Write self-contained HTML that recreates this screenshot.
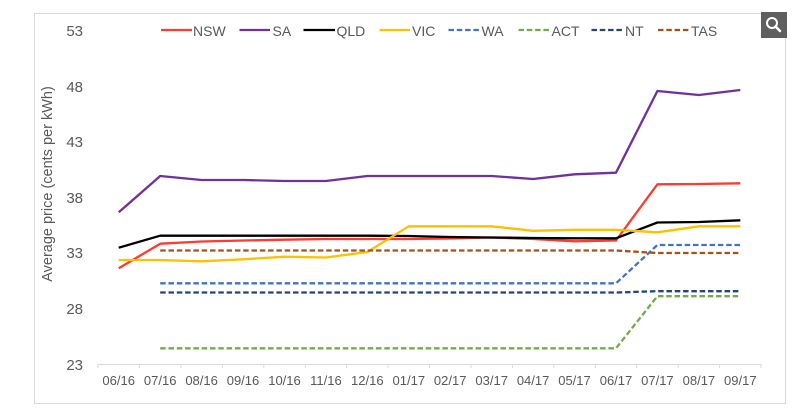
<!DOCTYPE html>
<html>
<head>
<meta charset="utf-8">
<style>
  html,body{margin:0;padding:0;background:#fff;}
  body{width:802px;height:414px;overflow:hidden;position:relative;}
  svg{position:absolute;left:0;top:0;}
  text{font-family:"Liberation Sans",sans-serif;fill:#595959;}
</style>
</head>
<body>
<svg width="802" height="414" viewBox="0 0 802 414" xmlns="http://www.w3.org/2000/svg">
  <!-- chart border -->
  <rect x="34.5" y="13.5" width="751" height="390" fill="#fff" stroke="#d9d9d9" stroke-width="1"/>

  <!-- search icon -->
  <rect x="761" y="12" width="26" height="26" fill="#5f5f5f"/>
  <circle cx="772" cy="23" r="5" fill="none" stroke="#fff" stroke-width="2"/>
  <line x1="775.5" y1="26.5" x2="780" y2="31" stroke="#fff" stroke-width="2.5" stroke-linecap="round"/>

  <!-- y axis labels -->
  <g font-size="15" text-anchor="end">
    <text x="83" y="36">53</text>
    <text x="83" y="92">48</text>
    <text x="83" y="147">43</text>
    <text x="83" y="203">38</text>
    <text x="83" y="258">33</text>
    <text x="83" y="314">28</text>
    <text x="83" y="370">23</text>
  </g>

  <!-- y axis title -->
  <text font-size="14.5" text-anchor="middle" transform="translate(52,184) rotate(-90)">Average price (cents per kWh)</text>

  <!-- x axis -->
  <line x1="98" y1="364.5" x2="761" y2="364.5" stroke="#d9d9d9" stroke-width="1"/>
  <g stroke="#d9d9d9" stroke-width="1">
    <line x1="98" y1="364" x2="98" y2="368"/>
    <line x1="139.4" y1="364" x2="139.4" y2="368"/>
    <line x1="180.9" y1="364" x2="180.9" y2="368"/>
    <line x1="222.3" y1="364" x2="222.3" y2="368"/>
    <line x1="263.8" y1="364" x2="263.8" y2="368"/>
    <line x1="305.2" y1="364" x2="305.2" y2="368"/>
    <line x1="346.6" y1="364" x2="346.6" y2="368"/>
    <line x1="388.1" y1="364" x2="388.1" y2="368"/>
    <line x1="429.5" y1="364" x2="429.5" y2="368"/>
    <line x1="471" y1="364" x2="471" y2="368"/>
    <line x1="512.4" y1="364" x2="512.4" y2="368"/>
    <line x1="553.8" y1="364" x2="553.8" y2="368"/>
    <line x1="595.3" y1="364" x2="595.3" y2="368"/>
    <line x1="636.7" y1="364" x2="636.7" y2="368"/>
    <line x1="678.2" y1="364" x2="678.2" y2="368"/>
    <line x1="719.6" y1="364" x2="719.6" y2="368"/>
    <line x1="761" y1="364" x2="761" y2="368"/>
  </g>
  <g font-size="13" text-anchor="middle">
    <text x="118.7" y="385">06/16</text>
    <text x="160.2" y="385">07/16</text>
    <text x="201.6" y="385">08/16</text>
    <text x="243" y="385">09/16</text>
    <text x="284.5" y="385">10/16</text>
    <text x="325.9" y="385">11/16</text>
    <text x="367.3" y="385">12/16</text>
    <text x="408.8" y="385">01/17</text>
    <text x="450.2" y="385">02/17</text>
    <text x="491.7" y="385">03/17</text>
    <text x="533.1" y="385">04/17</text>
    <text x="574.5" y="385">05/17</text>
    <text x="616" y="385">06/17</text>
    <text x="657.4" y="385">07/17</text>
    <text x="698.9" y="385">08/17</text>
    <text x="740.3" y="385">09/17</text>
  </g>

  <!-- series -->
  <g fill="none" stroke-width="2.3" stroke-linejoin="round">
    <!-- NSW -->
    <polyline stroke="#ff3a2e" points="118.7,268.3 160.2,243.7 201.6,241.5 243,240.5 284.5,239.7 325.9,239 367.3,239 408.8,239 450.2,238.5 491.7,237.5 533.1,239 574.5,241.3 616,240.5 657.4,184.3 698.9,184 740.3,183.3"/>
    <!-- SA -->
    <polyline stroke="#7030a0" points="118.7,212.3 160.2,176 201.6,180 243,180 284.5,181 325.9,181 367.3,176 408.8,176 450.2,176 491.7,176 533.1,179 574.5,174.3 616,172.7 657.4,91 698.9,95 740.3,90"/>
    <!-- QLD -->
    <polyline stroke="#000000" points="118.7,247.7 160.2,235.7 201.6,235.7 243,235.7 284.5,235.7 325.9,235.7 367.3,235.7 408.8,236 450.2,237 491.7,237.5 533.1,238 574.5,238.3 616,238.3 657.4,222.5 698.9,222 740.3,220.3"/>
    <!-- VIC -->
    <polyline stroke="#ffc000" points="118.7,260 160.2,260 201.6,261.3 243,259.3 284.5,256.7 325.9,257.5 367.3,252 408.8,226.3 450.2,226.3 491.7,226.3 533.1,230.8 574.5,229.8 616,229.8 657.4,232.3 698.9,226.3 740.3,226.3"/>
  </g>
  <g fill="none" stroke-width="2.3" stroke-dasharray="5.5,2.8">
    <!-- WA -->
    <polyline stroke="#4472c4" points="160.2,283.3 616,283.3 657.4,245 740.3,245"/>
    <!-- ACT -->
    <polyline stroke="#70ad47" points="160.2,348.3 616,348.3 657.4,296.2 740.3,296.2"/>
    <!-- NT -->
    <polyline stroke="#264478" points="160.2,292.5 616,292.5 657.4,291.2 740.3,291.2"/>
    <!-- TAS -->
    <polyline stroke="#a5521a" points="160.2,250.5 616,250.5 657.4,253 740.3,253"/>
  </g>

  <!-- legend -->
  <g stroke-width="2.3">
    <line x1="161" y1="30" x2="192" y2="30" stroke="#ff3a2e"/>
    <line x1="239.5" y1="30" x2="270" y2="30" stroke="#7030a0"/>
    <line x1="303.5" y1="30" x2="335" y2="30" stroke="#000"/>
    <line x1="379.5" y1="30" x2="410" y2="30" stroke="#ffc000"/>
    <line x1="448.5" y1="30" x2="480" y2="30" stroke="#4472c4" stroke-dasharray="5.5,2.8"/>
    <line x1="518.5" y1="30" x2="550" y2="30" stroke="#70ad47" stroke-dasharray="5.5,2.8"/>
    <line x1="591.5" y1="30" x2="623" y2="30" stroke="#264478" stroke-dasharray="5.5,2.8"/>
    <line x1="658" y1="30" x2="689.5" y2="30" stroke="#a5521a" stroke-dasharray="5.5,2.8"/>
  </g>
  <g font-size="14">
    <text x="193" y="36">NSW</text>
    <text x="272.5" y="36">SA</text>
    <text x="336.5" y="36">QLD</text>
    <text x="412" y="36">VIC</text>
    <text x="481.5" y="36">WA</text>
    <text x="551.5" y="36">ACT</text>
    <text x="625" y="36">NT</text>
    <text x="691" y="36">TAS</text>
  </g>
</svg>
</body>
</html>
